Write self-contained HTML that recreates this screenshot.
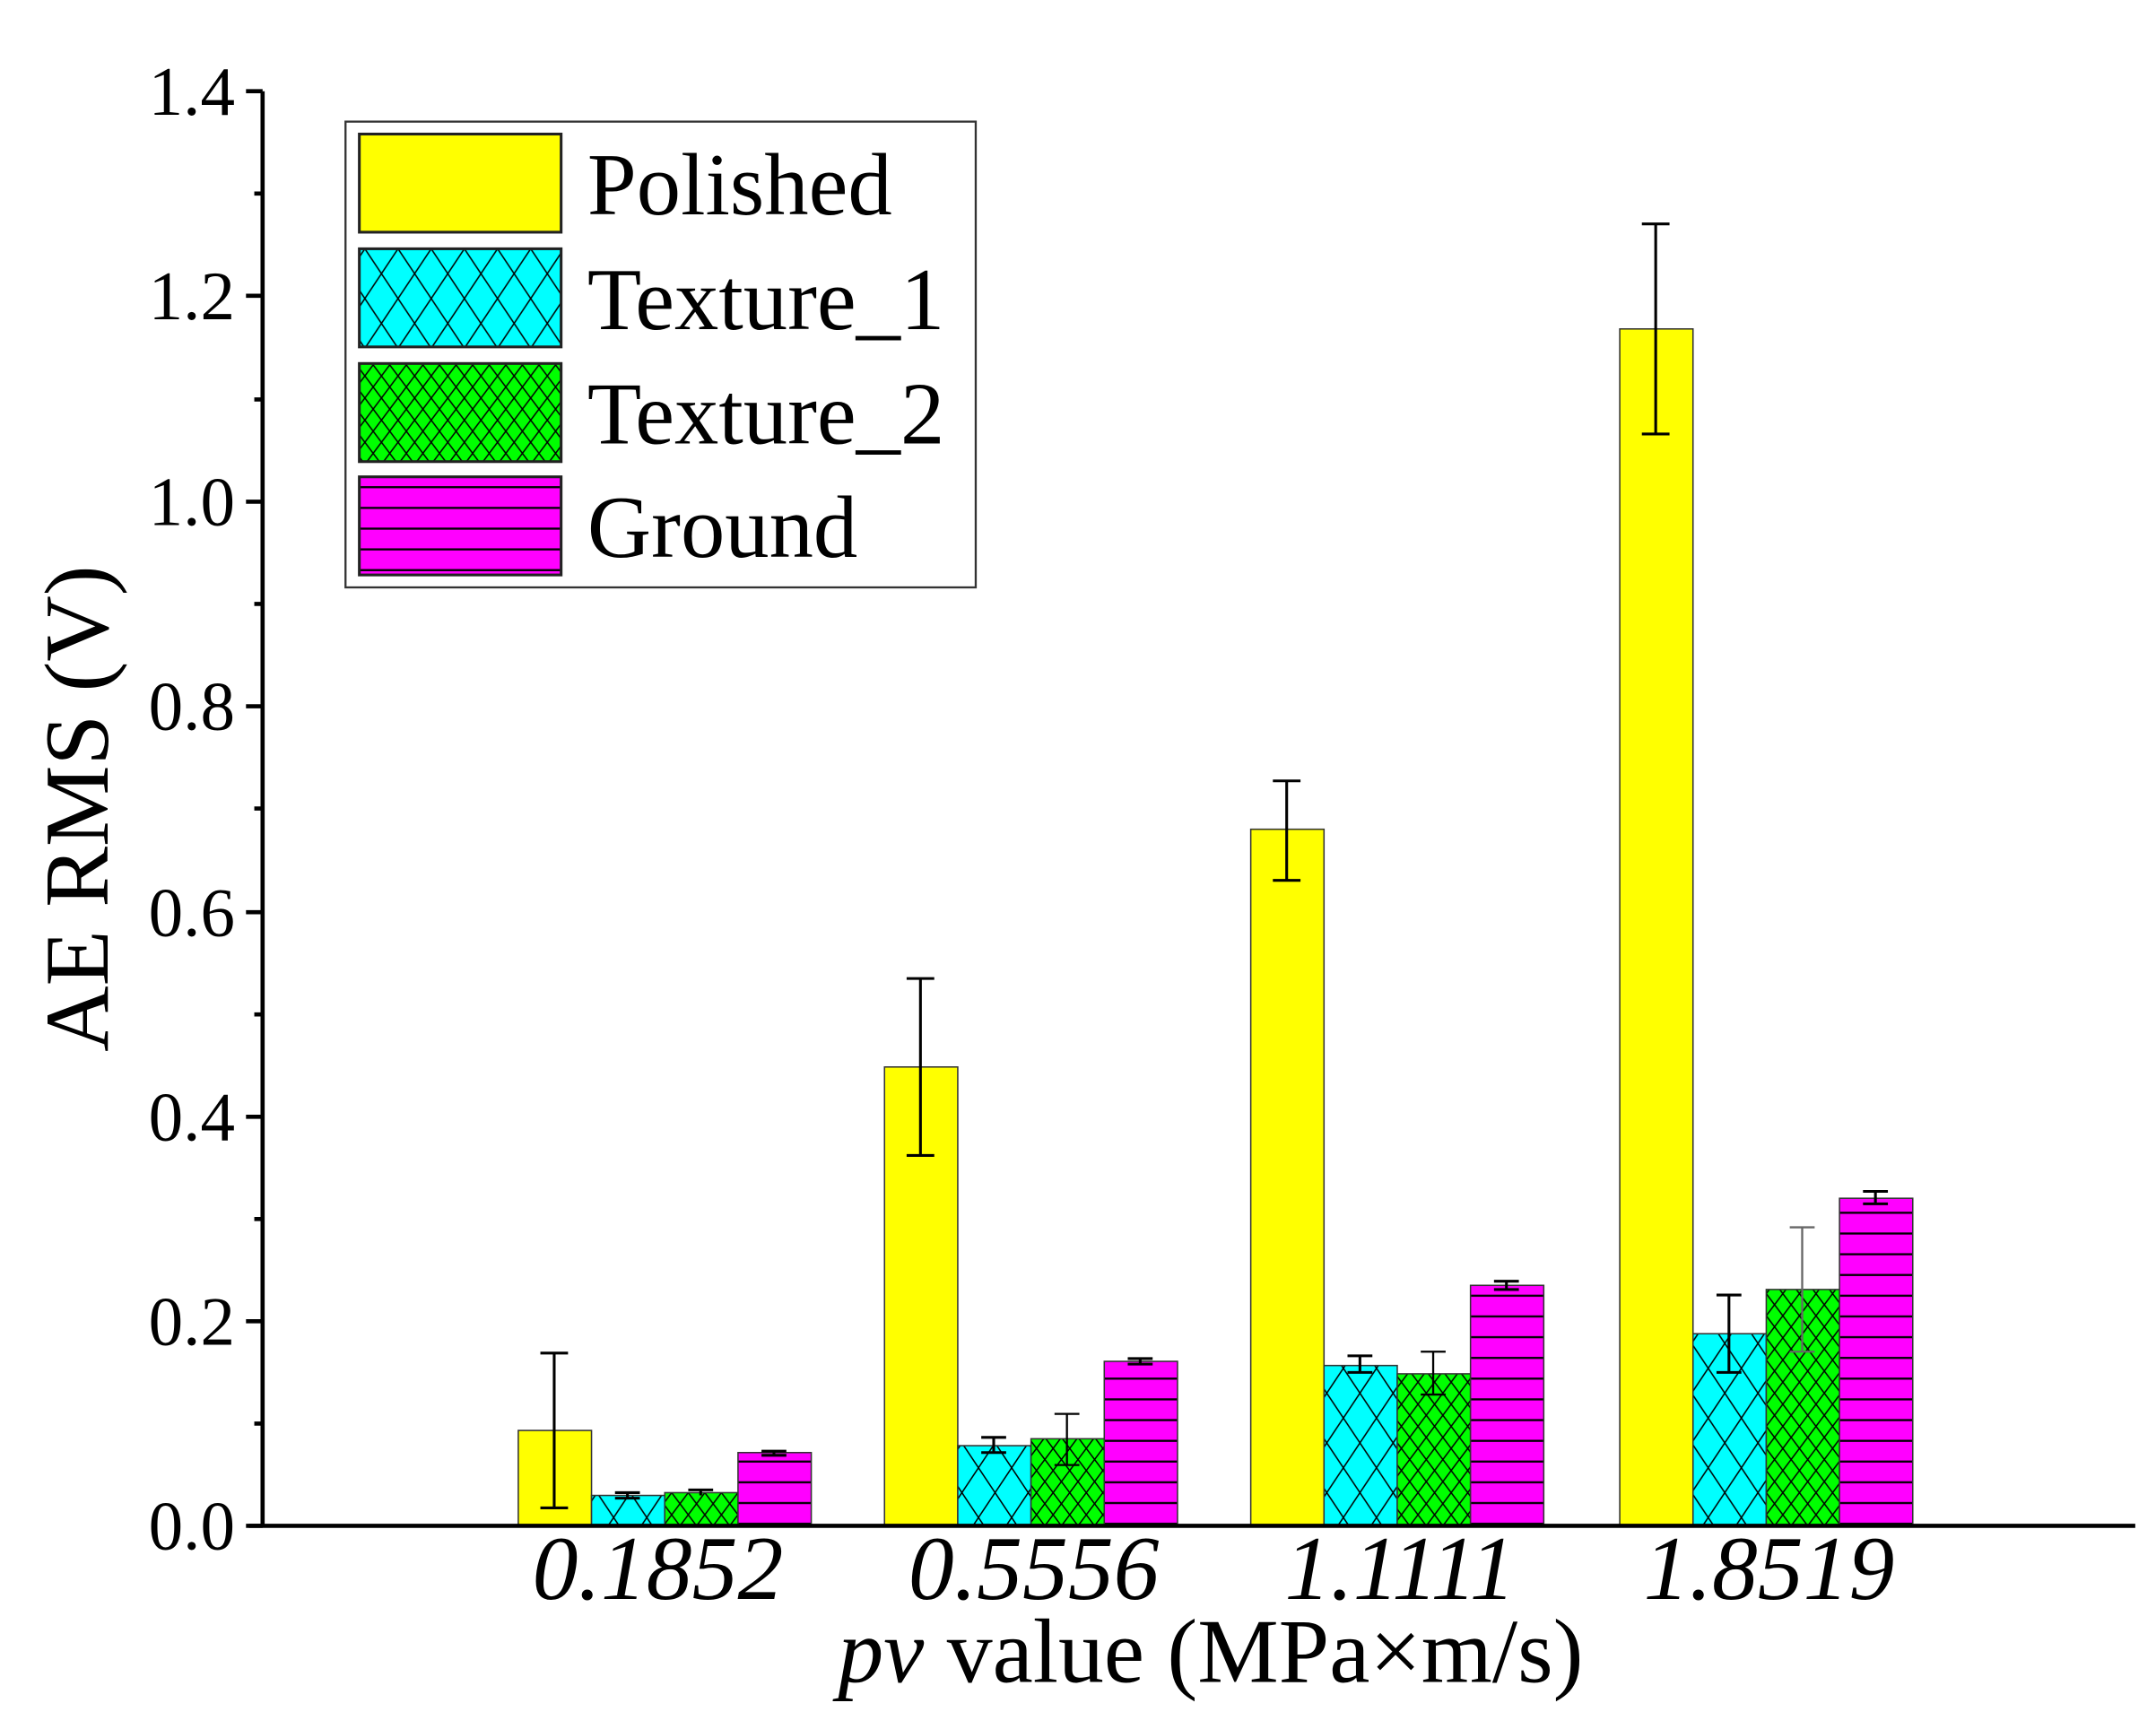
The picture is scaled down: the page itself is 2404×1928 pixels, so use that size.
<!DOCTYPE html>
<html><head><meta charset="utf-8"><style>
html,body{margin:0;padding:0;background:#fff;}
svg{display:block;}
text{font-family:"Liberation Serif",serif;fill:#000;}
</style></head><body>
<svg width="2404" height="1928" viewBox="0 0 1560 1251" preserveAspectRatio="none" xmlns="http://www.w3.org/2000/svg">
<defs>
<pattern id="p1" patternUnits="userSpaceOnUse" width="24" height="36">
<rect width="24" height="36" fill="#00ffff"/>
<path d="M0,0 L24,36 M24,0 L0,36" stroke="#000" stroke-width="1"/>
</pattern>
<pattern id="p2" patternUnits="userSpaceOnUse" width="12" height="16">
<rect width="12" height="16" fill="#00ff00"/>
<path d="M0,0 L12,16 M12,0 L0,16" stroke="#000" stroke-width="1"/>
</pattern>
<pattern id="p3" patternUnits="userSpaceOnUse" width="10" height="15">
<rect width="10" height="15" fill="#ff00ff"/>
<path d="M0,7.5 H10" stroke="#000" stroke-width="1.5"/>
</pattern>
</defs>
<g id="bars" stroke="#333" stroke-width="1">
<rect x="375" y="1035" width="53" height="69" fill="#ffff00"/>
<rect x="428" y="1082" width="53" height="22" fill="url(#p1)"/>
<rect x="481" y="1080" width="53" height="24" fill="url(#p2)"/>
<rect x="534" y="1051" width="53" height="53" fill="url(#p3)"/>
<rect x="640" y="772" width="53" height="332" fill="#ffff00"/>
<rect x="693" y="1046" width="53" height="58" fill="url(#p1)"/>
<rect x="746" y="1041" width="53" height="63" fill="url(#p2)"/>
<rect x="799" y="985" width="53" height="119" fill="url(#p3)"/>
<rect x="905" y="600" width="53" height="504" fill="#ffff00"/>
<rect x="958" y="988" width="53" height="116" fill="url(#p1)"/>
<rect x="1011" y="994" width="53" height="110" fill="url(#p2)"/>
<rect x="1064" y="930" width="53" height="174" fill="url(#p3)"/>
<rect x="1172" y="238" width="53" height="866" fill="#ffff00"/>
<rect x="1225" y="965" width="53" height="139" fill="url(#p1)"/>
<rect x="1278" y="933" width="53" height="171" fill="url(#p2)"/>
<rect x="1331" y="867" width="53" height="237" fill="url(#p3)"/>
</g>
<g stroke="#000" stroke-width="2">
<path d="M401,979 V1091 M391,979 H411 M391,1091 H411"/>
<path d="M454,1080 V1084 M445,1080 H463 M445,1084 H463"/>
<path d="M507,1078 V1082 M498,1078 H516"/>
<path d="M560,1050 V1053 M551,1050 H569 M551,1053 H569"/>
<path d="M666,708 V836 M656,708 H676 M656,836 H676"/>
<path d="M719,1040 V1051 M710,1040 H728 M710,1051 H728"/>
<path d="M772,1023 V1060 M763,1023 H781 M763,1060 H781" stroke-width="1.5"/>
<path d="M825,983 V987 M816,983 H834 M816,987 H834"/>
<path d="M931,565 V637 M921,565 H941 M921,637 H941"/>
<path d="M984,981 V993 M975,981 H993 M975,993 H993"/>
<path d="M1037,978 V1009 M1028,978 H1046 M1028,1009 H1046" stroke-width="1.5"/>
<path d="M1090,927 V933 M1081,927 H1099 M1081,933 H1099"/>
<path d="M1198,162 V314 M1188,162 H1208 M1188,314 H1208"/>
<path d="M1251,937 V993 M1242,937 H1260 M1242,993 H1260"/>
<path d="M1304,888 V978 M1295,888 H1313 M1295,978 H1313" stroke="#666" stroke-width="1.5"/>
<path d="M1357,862 V871 M1348,862 H1366 M1348,871 H1366"/>
</g>
<g stroke="#000" stroke-width="3">
<path d="M190,66 V1104"/>
<path d="M180,1104 H1545"/>
<path d="M178,66 H190 M178,214 H190 M178,363 H190 M178,511 H190 M178,660 H190 M178,808 H190 M178,956 H190 M178,1104 H190"/>
<path d="M184,140 H190 M184,289 H190 M184,437 H190 M184,585 H190 M184,734 H190 M184,882 H190 M184,1030 H190"/>
</g>
<g font-size="50" text-anchor="end">
<text x="170" y="83">1.4</text>
<text x="170" y="231">1.2</text>
<text x="170" y="380">1.0</text>
<text x="170" y="528">0.8</text>
<text x="170" y="677">0.6</text>
<text x="170" y="825">0.4</text>
<text x="170" y="973">0.2</text>
<text x="170" y="1121">0.0</text>
</g>
<g font-size="66" font-style="italic" text-anchor="middle">
<text x="476" y="1157">0.1852</text>
<text x="748" y="1157">0.5556</text>
<text x="1013" y="1157">1.1111</text>
<text x="1280" y="1157">1.8519</text>
</g>
<text x="876" y="1217" font-size="66" text-anchor="middle"><tspan font-style="italic">pv</tspan> value (MPa×m/s)</text>
<text transform="translate(78,585) rotate(-90)" font-size="66" text-anchor="middle">AE RMS (V)</text>
<rect x="250" y="88" width="456" height="337" fill="#fff" stroke="#333" stroke-width="1.5"/>
<g stroke="#222" stroke-width="2">
<rect x="260" y="97" width="146" height="71" fill="#ffff00"/>
<rect x="260" y="180" width="146" height="71" fill="url(#p1)"/>
<rect x="260" y="263" width="146" height="71" fill="url(#p2)"/>
<rect x="260" y="345" width="146" height="71" fill="url(#p3)"/>
</g>
<g font-size="64">
<text x="425" y="155">Polished</text>
<text x="425" y="238">Texture_1</text>
<text x="425" y="321">Texture_2</text>
<text x="425" y="403">Ground</text>
</g>
</svg>
</body></html>
